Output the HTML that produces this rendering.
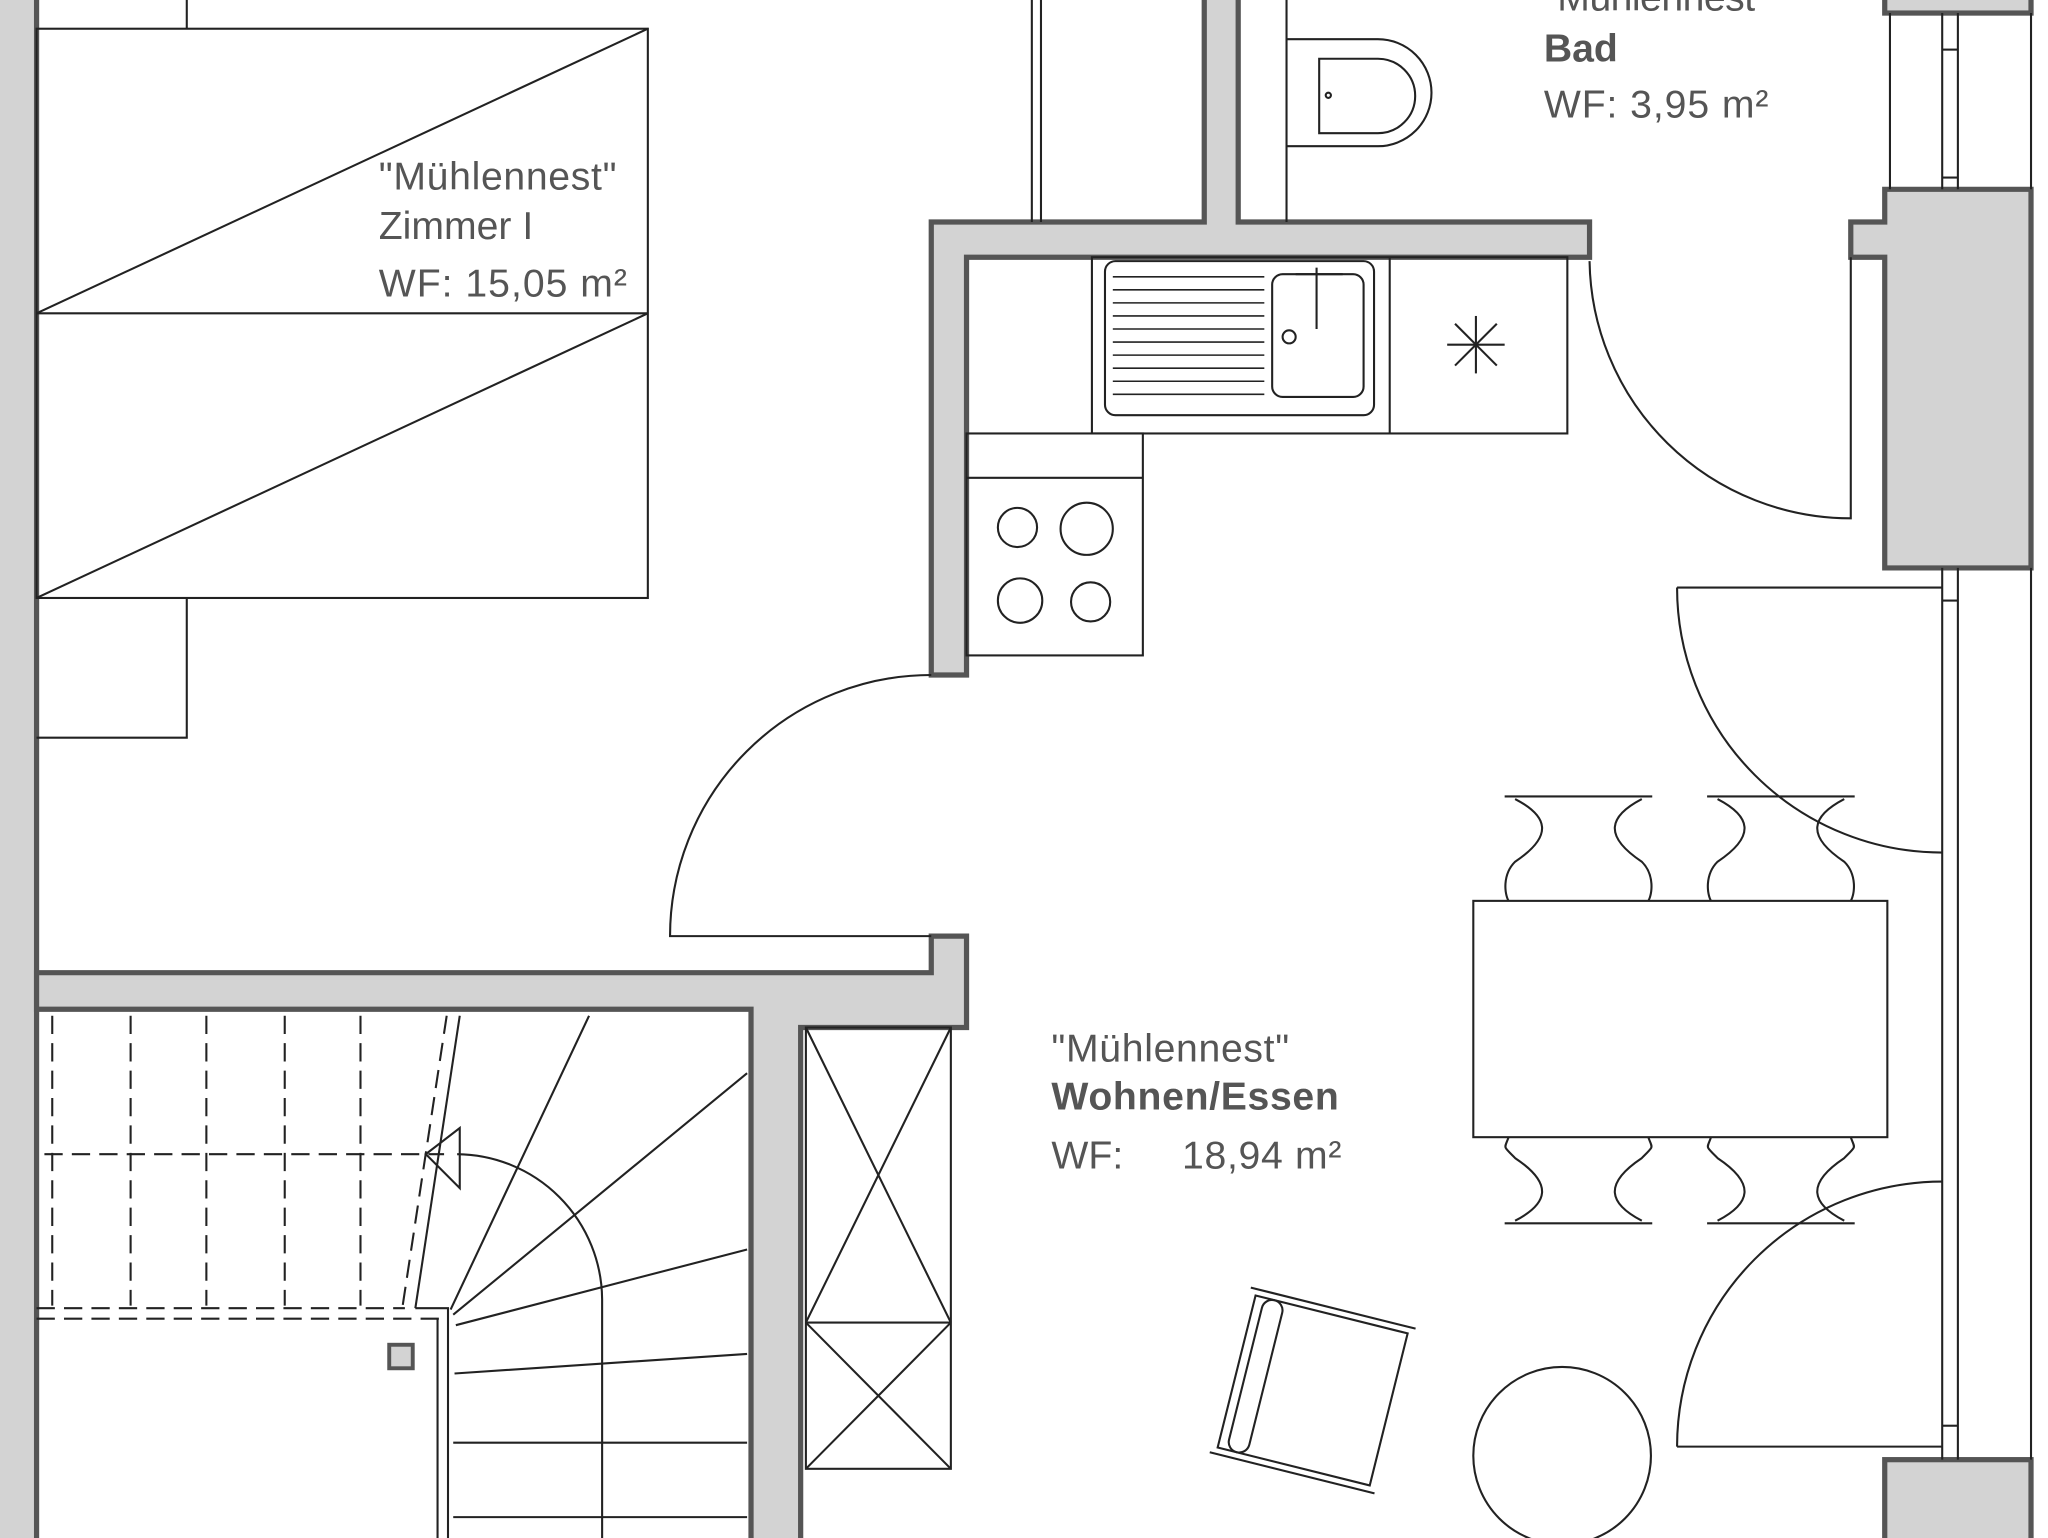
<!DOCTYPE html>
<html><head><meta charset="utf-8"><style>
html,body{margin:0;padding:0;background:#fff;width:2048px;height:1538px;overflow:hidden}
svg{display:block}
text{font-family:"Liberation Sans",sans-serif;fill:#555;font-size:30px}
</style></head><body>
<svg width="2048" height="1538" viewBox="0 0 1568 1178" preserveAspectRatio="none" xmlns="http://www.w3.org/2000/svg">
<g fill="#d3d3d3" stroke="#555" stroke-width="4">
<rect x="-5" y="-5" width="33" height="1190"/>
<path d="M28 745 H713 V717 H740 V787 H613 V1185 H575 V773 H28 Z"/>
<path d="M713 517 V170 H922 V-5 H948 V170 H1217 V197 H740 V517 Z"/>
<rect x="1443" y="-10" width="112" height="20"/>
<path d="M1443 145 H1555 V435 H1443 V197 H1417 V170 H1443 Z"/>
<rect x="1443" y="1118" width="112" height="70"/>
</g>
<g fill="none" stroke="#222" stroke-width="1.6">
<line x1="1555" y1="10" x2="1555" y2="145"/>
<line x1="1447" y1="10" x2="1447" y2="145"/>
<line x1="1487" y1="10" x2="1487" y2="145"/><line x1="1499" y1="10" x2="1499" y2="145"/>
<line x1="1487" y1="38" x2="1499" y2="38"/><line x1="1487" y1="136" x2="1499" y2="136"/>
<line x1="1555" y1="435" x2="1555" y2="1118"/>
<line x1="1487" y1="435" x2="1487" y2="1118"/><line x1="1499" y1="435" x2="1499" y2="1118"/>
<line x1="1487" y1="460" x2="1499" y2="460"/><line x1="1487" y1="1092" x2="1499" y2="1092"/>
<line x1="790" y1="0" x2="790" y2="170"/><line x1="797" y1="0" x2="797" y2="170"/>
<line x1="985" y1="0" x2="985" y2="170"/>
<line x1="143" y1="0" x2="143" y2="22"/>
<rect x="28" y="22" width="468" height="436"/>
<line x1="28" y1="240" x2="496" y2="240"/>
<line x1="28" y1="240" x2="496" y2="22"/>
<line x1="28" y1="458" x2="496" y2="240"/>
<polyline points="28,565 143,565 143,458"/>
<path d="M985 30 H1055 A40 40 0 0 1 1055 112 H985"/>
<path d="M1010 45 H1055 A28 28 0 0 1 1055 102 H1010 Z"/>
<circle cx="1017" cy="73" r="2"/>
<rect x="836" y="197" width="364" height="135"/>
<line x1="1064" y1="197" x2="1064" y2="332"/>
<rect x="846" y="200" width="206" height="118" rx="8"/>
<rect x="974" y="210" width="70" height="94" rx="8"/>
<g stroke-width="1.2">
<line x1="852" y1="212" x2="968" y2="212"/><line x1="852" y1="222" x2="968" y2="222"/><line x1="852" y1="232" x2="968" y2="232"/><line x1="852" y1="242" x2="968" y2="242"/><line x1="852" y1="252" x2="968" y2="252"/><line x1="852" y1="262" x2="968" y2="262"/><line x1="852" y1="272" x2="968" y2="272"/><line x1="852" y1="282" x2="968" y2="282"/><line x1="852" y1="292" x2="968" y2="292"/><line x1="852" y1="302" x2="968" y2="302"/>
</g>
<circle cx="987" cy="258" r="5"/>
<line x1="1008" y1="205" x2="1008" y2="252"/><line x1="992" y1="210" x2="1028" y2="210"/>
<line x1="1108" y1="264" x2="1152" y2="264"/><line x1="1130" y1="242" x2="1130" y2="286"/><line x1="1114" y1="248" x2="1146" y2="280"/><line x1="1146" y1="248" x2="1114" y2="280"/>
<rect x="740" y="332" width="135" height="170"/>
<line x1="740" y1="366" x2="875" y2="366"/>
<circle cx="779" cy="404" r="15"/><circle cx="832" cy="405" r="20"/>
<circle cx="781" cy="460" r="17"/><circle cx="835" cy="461" r="15"/>
<path d="M1217 200 A200 200 0 0 0 1417 397 V197"/>
<path d="M713 517 A200 200 0 0 0 513 717 H713"/>
<path d="M1284 450 H1487 M1284 450 A203 203 0 0 0 1487 653"/>
<path d="M1284 1108 H1487 M1284 1108 A203 203 0 0 1 1487 905"/>
<rect x="1128" y="690" width="317" height="181"/>
<g>
<path d="M1152 610 H1265 M1160 612 C1185 625 1190 640 1160 660 C1150 670 1152 685 1155 690 M1257 612 C1232 625 1227 640 1257 660 C1267 670 1265 685 1262 690"/>
<path d="M1307 610 H1420 M1315 612 C1340 625 1345 640 1315 660 C1305 670 1307 685 1310 690 M1412 612 C1387 625 1382 640 1412 660 C1422 670 1420 685 1417 690"/>
<path d="M1152 937 H1265 M1160 935 C1185 922 1190 907 1160 887 C1150 877 1152 880 1155 871 M1257 935 C1232 922 1227 907 1257 887 C1267 877 1265 880 1262 871"/>
<path d="M1307 937 H1420 M1315 935 C1340 922 1345 907 1315 887 C1305 877 1307 880 1310 871 M1412 935 C1387 922 1382 907 1412 887 C1422 877 1420 880 1417 871"/>
</g>
<g transform="rotate(14 1005 1065)">
<rect x="945" y="1005" width="120" height="120"/>
<rect x="952" y="1005" width="16" height="120" rx="8"/>
<line x1="940" y1="1000" x2="1070" y2="1000"/><line x1="940" y1="1130" x2="1070" y2="1130"/>
</g>
<circle cx="1196" cy="1115" r="68"/>
<rect x="617" y="787" width="111" height="338"/>
<line x1="617" y1="1013" x2="728" y2="1013"/>
<path d="M617 787 L728 1013 M728 787 L617 1013 M617 1013 L728 1125 M728 1013 L617 1125"/>
<g stroke-dasharray="14 7">
<line x1="40" y1="778" x2="40" y2="1000"/><line x1="100" y1="778" x2="100" y2="1000"/><line x1="158" y1="778" x2="158" y2="1000"/><line x1="218" y1="778" x2="218" y2="1000"/><line x1="276" y1="778" x2="276" y2="1000"/>
<line x1="34" y1="884" x2="340" y2="884"/>
<line x1="28" y1="1002" x2="310" y2="1002"/><line x1="28" y1="1010" x2="340" y2="1010"/>
<line x1="342" y1="778" x2="308" y2="1002"/>
</g>
<line x1="352" y1="778" x2="318" y2="1002"/>
<polyline points="318,1002 343,1002 343,1178"/>
<line x1="335" y1="1010" x2="335" y2="1178"/>
<path d="M352 864 V910 L326 884 Z"/>
<path d="M350 884 A112 112 0 0 1 461 995 V1178"/>
<path d="M345 1003 L451 778 M347 1007 L572 822 M349 1015 L572 957 M348 1052 L572 1037"/>
<line x1="347" y1="1105" x2="572" y2="1105"/><line x1="347" y1="1162" x2="572" y2="1162"/>
</g>
<rect x="298" y="1030" width="18" height="18" fill="#d3d3d3" stroke="#555" stroke-width="3"/>
<text x="290" y="145" textLength="182">"Mühlennest"</text>
<text x="290" y="183">Zimmer I</text>
<text x="290" y="227" textLength="190">WF: 15,05 m²</text>
<text x="1182" y="8" textLength="172">"Mühlennest"</text>
<text x="1182" y="47" font-weight="bold">Bad</text>
<text x="1182" y="90" textLength="172">WF: 3,95 m²</text>
<text x="805" y="813" textLength="182">"Mühlennest"</text>
<text x="805" y="850" font-weight="bold" textLength="220">Wohnen/Essen</text>
<text x="805" y="895">WF:</text>
<text x="905" y="895" textLength="122">18,94 m²</text>
</svg>
</body></html>
